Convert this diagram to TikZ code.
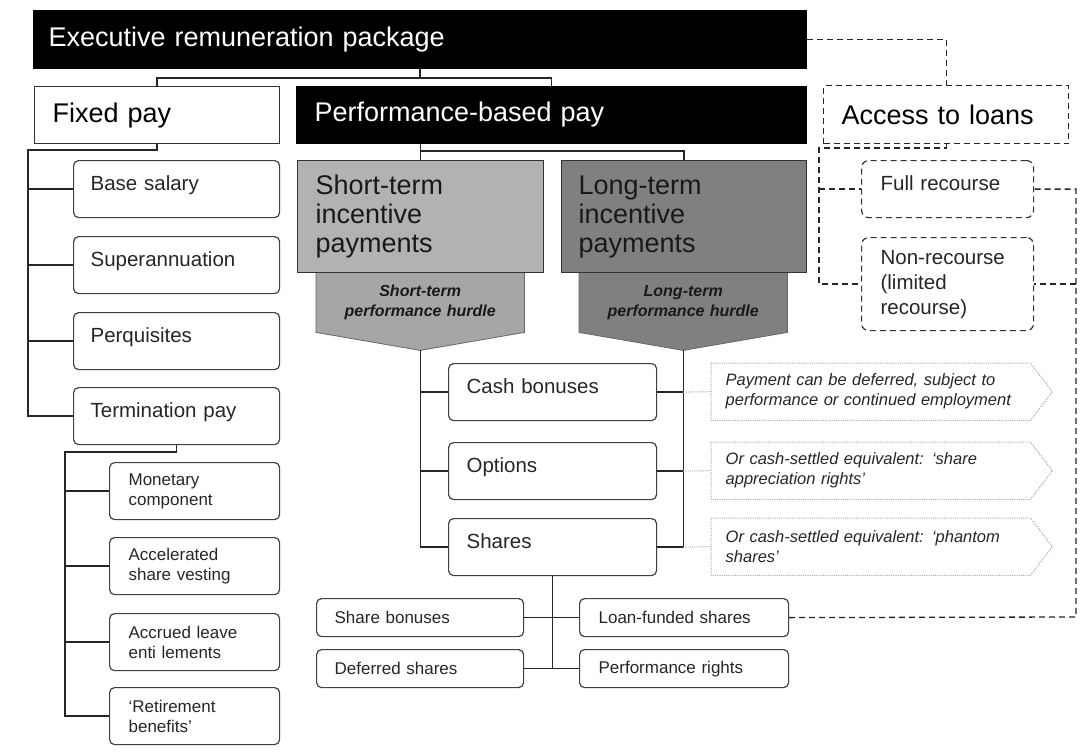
\documentclass[tikz,border=0pt]{standalone}
\usepackage{fontspec}
\setmainfont{Liberation Sans}
\usetikzlibrary{backgrounds}

\begin{document}
\begin{tikzpicture}
[x=1pt,y=-1pt,
	link/.style={draw=black!85,line width=1.3pt},
	loanlink/.style={draw=black!85,line width=1.3pt,dash pattern=on 6pt off 4pt},
	notelink/.style={draw=black!35,line width=1pt,dash pattern=on 1pt off 1.2pt},
	headbox/.style={anchor=north west,rectangle,align=left,inner ysep=0pt,font=\fontsize{27}{29}\selectfont},
	darkbox/.style={headbox,fill=black,draw=black,line width=1pt,text=white},
	itembox/.style={anchor=north west,rectangle,rounded corners=5pt,draw=black!75,line width=1.2pt,align=left,inner ysep=0pt,text=black!85,minimum height=57pt},
	dashitem/.style={draw=black!80,rounded corners=7pt,dash pattern=on 6pt off 4pt},
	itemfont/.style={font=\fontsize{20.5}{25}\selectfont},
	oneline/.style={text height=15pt,text depth=12pt},
	smallfont/.style={font=\fontsize{17}{20}\selectfont},
	hurdlebox/.style={anchor=north west,rectangle,align=center,inner sep=0pt,text width=208pt,minimum height=60pt,text=black!90,font=\fontsize{16}{20}\selectfont\bfseries\itshape},
	hurdleline/.style={draw=black!60,line width=0.8pt},
	notebox/.style={anchor=north west,rectangle,align=left,inner xsep=14.5pt,inner ysep=0pt,text width=290pt,minimum height=57pt,text=black!85,font=\fontsize{16.5}{20}\selectfont\itshape},
	noteline/.style={draw=black!35,line width=1pt,dash pattern=on 1pt off 1.2pt}]
	
	\useasboundingbox (0,0) rectangle (1082,755);
	%\draw[gray,step=20] (0,0) grid (1082,755);
	
	% top row
	\node[darkbox,inner xsep=15pt,text width=743pt,minimum height=58pt] (exec) at (33,10) 
	{Executive remuneration package};
	\node[headbox,draw=black!80,line width=1.2pt,inner xsep=18pt,text width=209pt,minimum height=57pt] (fixed) at (34,86) 
	{Fixed pay};
	\node[darkbox,inner xsep=18pt,text width=474pt,minimum height=57pt] (perf) at (296,86) 
	{Performance-based pay};
	\node[headbox,draw=black!85,line width=1.3pt,dash pattern=on 6pt off 4pt,inner xsep=18pt,text width=209pt,minimum height=58pt] (loans) at (823,85) 
	{Access to loans};
	
	% loans
	\node[itembox,dashitem,itemfont,oneline,inner xsep=19pt,text width=134pt] (full) at (861,160) 
	{Full recourse};
	\node[itembox,dashitem,itemfont,inner xsep=19pt,text width=134pt,minimum height=93pt] (nonrec) at (861,237) 
	{Non-recourse\\(limited\\recourse)};
	
	% fixed pay
	\node[itembox,itemfont,oneline,inner xsep=17pt,text width=172pt] (base) at (73,160) {Base salary};
	\node[itembox,itemfont,oneline,inner xsep=17pt,text width=172pt] (super) at (73,236) {Superannuation};
	\node[itembox,itemfont,oneline,inner xsep=17pt,text width=172pt] (perq) at (73,312) {Perquisites};
	\node[itembox,itemfont,oneline,inner xsep=17pt,text width=172pt] (term) at (73,387) {Termination pay};
	
	\node[itembox,smallfont,inner xsep=19pt,text width=132pt] (monet) at (109,462) {Monetary\\component};
	\node[itembox,smallfont,inner xsep=19pt,text width=132pt] (accel) at (109,537) {Accelerated\\share vesting};
	\node[itembox,smallfont,inner xsep=19pt,text width=132pt] (accrued) at (109,613) {Accrued leave\\enti lements};
	\node[itembox,smallfont,inner xsep=19pt,text width=132pt] (retire) at (109,687) {‘Retirement\\benefits’};
	
	% incentives
	\node[headbox,fill=black!30,draw=black!80,line width=1.2pt,inner xsep=18pt,text width=210pt,minimum height=112pt,text=black!90] (short) at (297,160) 
	{Short-term\\incentive\\payments};
	\node[headbox,fill=black!50,draw=black!80,line width=1.2pt,inner xsep=17pt,text width=211pt,minimum height=112pt,text=black!90] (long) at (561,160) 
	{Long-term\\incentive\\payments};
	
	\node[hurdlebox] (shurdle) at (316,272) {Short-term\\performance hurdle};
	\node[hurdlebox] (lhurdle) at (579,272) {Long-term\\performance hurdle};
	\coordinate (shtip) at ([yshift=-18pt]shurdle.south);
	\coordinate (lhtip) at ([yshift=-18pt]lhurdle.south);
	
	\begin{scope}[on background layer]
		\draw[hurdleline,fill=black!35] (shurdle.north west) -- (shurdle.south west) -- (shtip) -- (shurdle.south east) -- (shurdle.north east);
		\draw[hurdleline,fill=black!50] (lhurdle.north west) -- (lhurdle.south west) -- (lhtip) -- (lhurdle.south east) -- (lhurdle.north east);
	\end{scope}
	
	\node[itembox,itemfont,oneline,inner xsep=18pt,text width=172pt] (cash) at (448,363) {Cash bonuses};
	\node[itembox,itemfont,oneline,inner xsep=18pt,text width=172pt] (options) at (448,442) {Options};
	\node[itembox,itemfont,oneline,inner xsep=18pt,text width=172pt] (shares) at (448,518) {Shares};
	
	% shares
	\node[itembox,smallfont,inner xsep=18pt,text width=171pt,minimum height=38pt] (sharebon) at (316,598) {Share bonuses};
	\node[itembox,smallfont,inner xsep=18pt,text width=171pt,minimum height=38pt] (deferred) at (316,649) {Deferred shares};
	\node[itembox,smallfont,inner xsep=19pt,text width=171pt,minimum height=38pt] (loanfund) at (579,598) {Loan-funded shares};
	\node[itembox,smallfont,inner xsep=19pt,text width=171pt,minimum height=38pt] (perfrights) at (579,649) {Performance rights};
	
	% notes
	\node[notebox] (paynote) at (711,363) 
	{Payment can be deferred, subject to\\performance or continued employment};
	\node[notebox] (sarnote) at (711,442) 
	{Or cash-settled equivalent: ‘share\\appreciation rights’};
	\node[notebox] (phantomnote) at (711,518) 
	{Or cash-settled equivalent: ‘phantom\\shares’};
	
	\draw[noteline] (paynote.south west) -- (paynote.north west) -- (paynote.north east) -- ([xshift=22pt]paynote.east) -- (paynote.south east) -- cycle;
	\draw[noteline] (sarnote.south west) -- (sarnote.north west) -- (sarnote.north east) -- ([xshift=22pt]sarnote.east) -- (sarnote.south east) -- cycle;
	\draw[noteline] (phantomnote.south west) -- (phantomnote.north west) -- (phantomnote.north east) -- ([xshift=22pt]phantomnote.east) -- (phantomnote.south east) -- cycle;
	
	% connectors
	\draw[link] (exec.south) -- ([yshift=-9pt]exec.south);
	\draw[link] (fixed.north) |- ([yshift=-9pt]exec.south) -| (perf.north);
	\draw[link] (perf.south -| short.north) -- (short.north);
	\draw[link] ([yshift=9pt]short.north) -| (long.north);
	
	\coordinate (fixtrunk) at (28,150);
	\draw[link] (fixed.south) |- (fixtrunk) |- (term.west);
	\draw[link] (fixtrunk |- base.west) -- (base.west);
	\draw[link] (fixtrunk |- super.west) -- (super.west);
	\draw[link] (fixtrunk |- perq.west) -- (perq.west);
	
	\coordinate (termtrunk) at (65,452);
	\draw[link] (term.south) |- (termtrunk) |- (retire.west);
	\draw[link] (termtrunk |- monet.west) -- (monet.west);
	\draw[link] (termtrunk |- accel.west) -- (accel.west);
	\draw[link] (termtrunk |- accrued.west) -- (accrued.west);
	
	\draw[link] (shtip) |- (shares.west);
	\draw[link] (shtip |- cash.west) -- (cash.west);
	\draw[link] (shtip |- options.west) -- (options.west);
	\draw[link] (lhtip) |- (shares.east);
	\draw[link] (lhtip |- cash.east) -- (cash.east);
	\draw[link] (lhtip |- options.east) -- (options.east);
	
	\draw[notelink] (lhtip |- cash.east) -- (paynote.west);
	\draw[notelink] (lhtip |- options.east) -- (sarnote.west);
	\draw[notelink] (lhtip |- shares.east) -- (phantomnote.west);
	
	\draw[link] (shares.south) -- (shares.south |- deferred.east);
	\draw[link] (sharebon.east) -- (loanfund.west);
	\draw[link] (deferred.east) -- (perfrights.west);
	
	% loans
	\draw[loanlink] (exec.east) -| (loans.north);
	\coordinate (ltrunk) at (819,148);
	\draw[loanlink] (loans.south) |- (ltrunk) |- (nonrec.west);
	\draw[loanlink] (ltrunk |- full.west) -- (full.west);
	\coordinate (rtrunk) at (1076,617);
	\draw[loanlink] (loanfund.east) -- (rtrunk) |- (full.east);
	\draw[loanlink] (rtrunk |- nonrec.east) -- (nonrec.east);
\end{tikzpicture}
\end{document}
